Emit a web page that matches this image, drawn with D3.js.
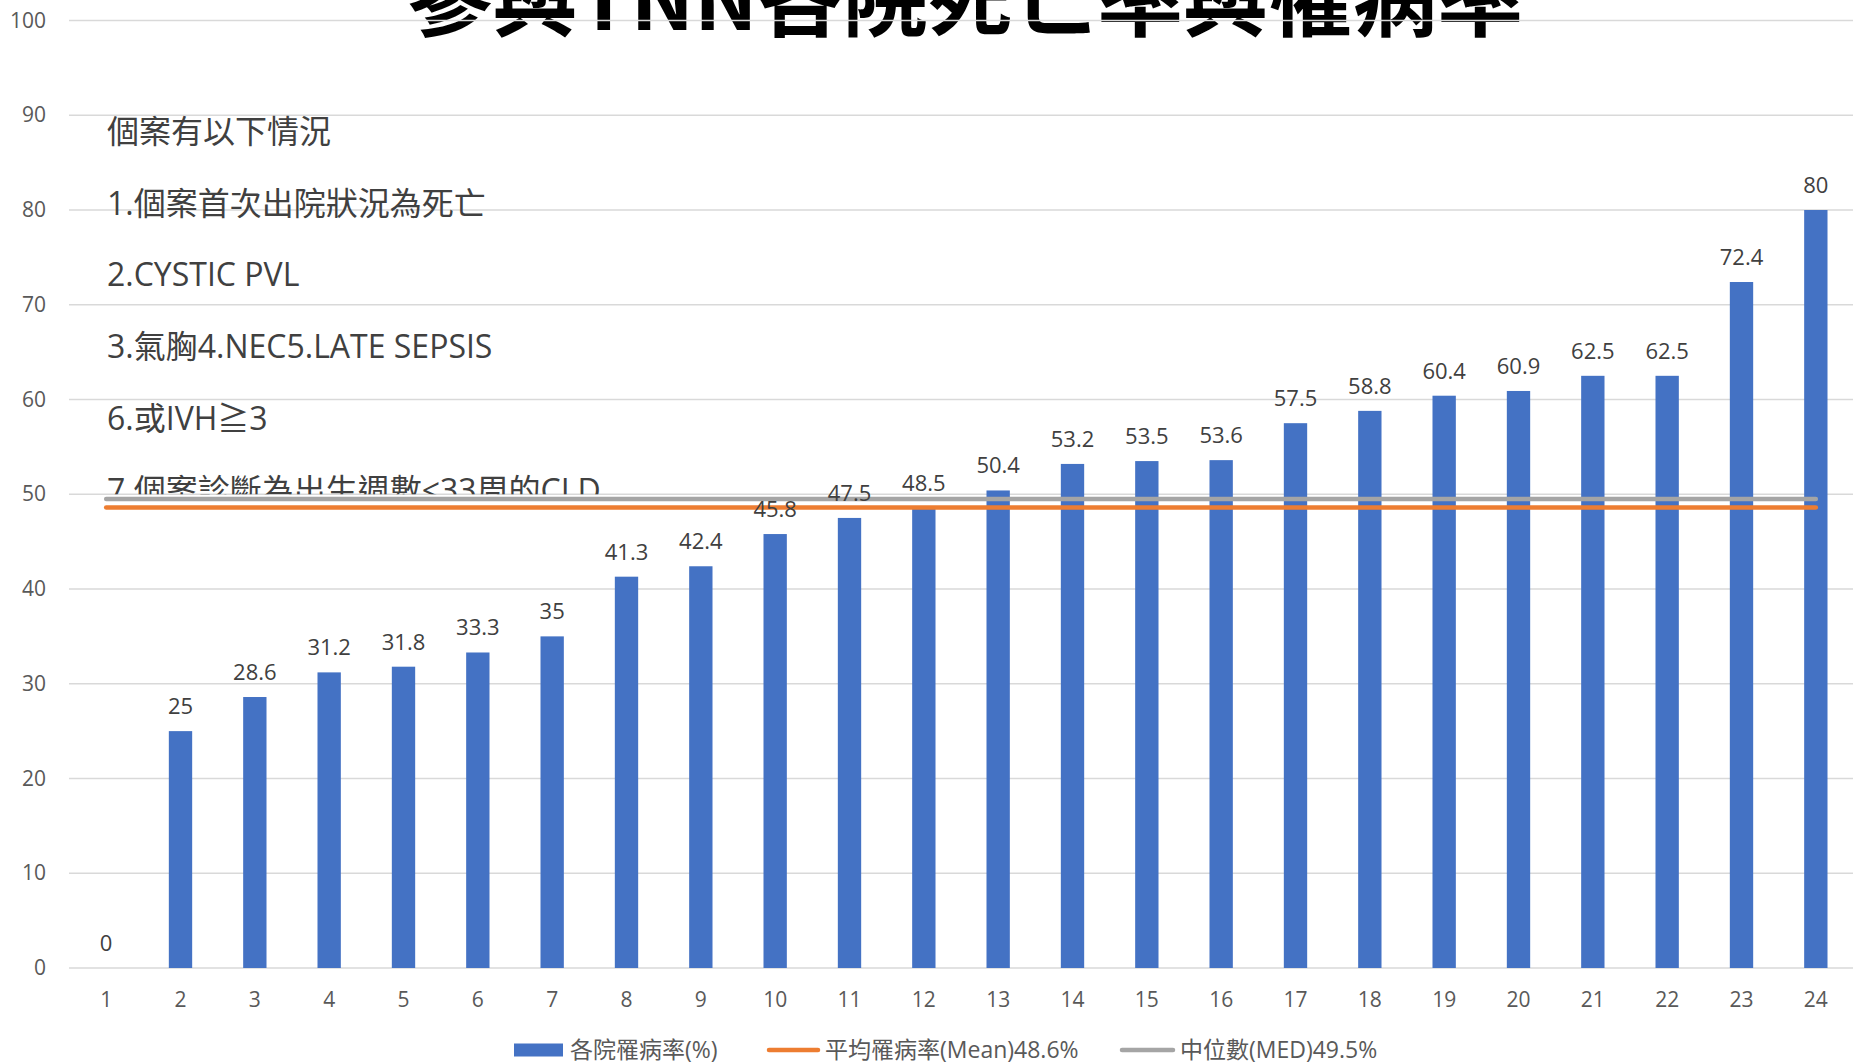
<!DOCTYPE html>
<html>
<head>
<meta charset="utf-8">
<script src="https://cdn.jsdelivr.net/npm/d3@7"></script>
<style>
  body { margin: 0; background: #fff; }
  text { font-family: "Open Sans", "Noto Sans CJK TC", sans-serif; }
</style>
</head>
<body>
<svg width="1856" height="1064"></svg>
<script>
// Data
var hospitals = ["1","2","3","4","5","6","7","8","9","10","11","12","13","14","15","16","17","18","19","20","21","22","23","24"];
var morbidity = [0, 25, 28.6, 31.2, 31.8, 33.3, 35, 41.3, 42.4, 45.8, 47.5, 48.5, 50.4, 53.2, 53.5, 53.6, 57.5, 58.8, 60.4, 60.9, 62.5, 62.5, 72.4, 80];
var meanValue = 48.6;
var medianValue = 49.5;
var yTicks = [0, 10, 20, 30, 40, 50, 60, 70, 80, 90, 100];
var titleText = "參與TNN各院死亡率與罹病率";
var noteLines = ["個案有以下情況", "1.個案首次出院狀況為死亡", "2.CYSTIC PVL", "3.氣胸4.NEC5.LATE SEPSIS", "6.或IVH≧3", "7.個案診斷為出生週數<33周的CLD"];
var legendLabels = ["各院罹病率(%)", "平均罹病率(Mean)48.6%", "中位數(MED)49.5%"];

var svg = d3.select("svg"),
    width = +svg.attr("width"),
    height = +svg.attr("height");

var plotLeft = 69, plotRight = 1853, plotTop = 20.5, plotBottom = 968;

var x = d3.scaleBand()
    .domain(hospitals)
    .range([plotLeft, plotRight]);

var y = d3.scaleLinear()
    .domain([0, 100])
    .range([plotBottom, plotTop]);

var barW = x.bandwidth() * 0.314;

// title (sits mostly above the canvas, as in the original)
svg.append("text")
    .attr("x", 965)
    .attr("y", 30)
    .attr("text-anchor", "middle")
    .style("font-family", "'Noto Sans CJK TC', sans-serif")
    .style("font-weight", "bold")
    .style("font-size", "85px")
    .style("fill", "#000")
    .text(titleText);

// gridlines
svg.append("g")
    .selectAll("line")
    .data(yTicks)
    .enter().append("line")
    .attr("x1", plotLeft)
    .attr("x2", plotRight)
    .attr("y1", (d) => y(d))
    .attr("y2", (d) => y(d))
    .style("stroke", "#d9d9d9")
    .style("stroke-width", 1.5);

// y axis labels
svg.append("g")
    .attr("transform", "translate(" + plotLeft + ",0)")
    .call(d3.axisLeft(y).tickValues(yTicks).tickSize(0).tickPadding(23))
    .call((g) => g.select(".domain").remove())
    .selectAll("text")
    .style("font-family", "'Open Sans', sans-serif")
    .style("font-size", "21px")
    .style("fill", "#595959");

// x axis labels
svg.append("g")
    .attr("transform", "translate(0," + plotBottom + ")")
    .call(d3.axisBottom(x).tickSize(0).tickPadding(24))
    .call((g) => g.select(".domain").remove())
    .selectAll("text")
    .style("font-family", "'Open Sans', sans-serif")
    .style("font-size", "21px")
    .style("fill", "#595959");

// note text box, last line is cut off at the 50 gridline
svg.append("clipPath")
    .attr("id", "noteClip")
    .append("rect")
    .attr("x", 0)
    .attr("y", 0)
    .attr("width", width)
    .attr("height", y(50));

svg.append("g")
    .attr("clip-path", "url(#noteClip)")
    .selectAll("text")
    .data(noteLines)
    .enter().append("text")
    .attr("x", 107)
    .attr("y", (d, i) => 143 + i * 71.7)
    .style("font-size", "32px")
    .style("fill", "#404040")
    .text((d) => d);

// bars
svg.append("g")
    .selectAll("rect")
    .data(morbidity)
    .enter().append("rect")
    .attr("x", (d, i) => x(hospitals[i]) + (x.bandwidth() - barW) / 2)
    .attr("y", (d) => y(d))
    .attr("width", barW)
    .attr("height", (d) => y(0) - y(d))
    .style("fill", "#4472c4");

// median and mean lines
var x0 = x(hospitals[0]) + x.bandwidth() / 2,
    x1 = x(hospitals[hospitals.length - 1]) + x.bandwidth() / 2;

svg.append("line")
    .attr("x1", x0).attr("x2", x1)
    .attr("y1", y(medianValue)).attr("y2", y(medianValue))
    .style("stroke", "#a5a5a5")
    .style("stroke-width", 4.5)
    .style("stroke-linecap", "round");

svg.append("line")
    .attr("x1", x0).attr("x2", x1)
    .attr("y1", y(meanValue)).attr("y2", y(meanValue))
    .style("stroke", "#ed7d31")
    .style("stroke-width", 4.5)
    .style("stroke-linecap", "round");

// data labels
svg.append("g")
    .selectAll("text")
    .data(morbidity)
    .enter().append("text")
    .attr("x", (d, i) => x(hospitals[i]) + x.bandwidth() / 2)
    .attr("y", (d) => y(d) - 17)
    .attr("text-anchor", "middle")
    .style("font-size", "22px")
    .style("fill", "#404040")
    .text((d) => d);

// legend
var legend = svg.append("g").attr("transform", "translate(0,1050)");

legend.append("rect")
    .attr("x", 514).attr("y", -6.5)
    .attr("width", 49).attr("height", 13)
    .style("fill", "#4472c4");

legend.append("line")
    .attr("x1", 769).attr("x2", 818)
    .style("stroke", "#ed7d31")
    .style("stroke-width", 4.5)
    .style("stroke-linecap", "round");

legend.append("line")
    .attr("x1", 1122).attr("x2", 1173)
    .style("stroke", "#a5a5a5")
    .style("stroke-width", 4.5)
    .style("stroke-linecap", "round");

legend.selectAll("text.lab")
    .data(legendLabels)
    .enter().append("text")
    .attr("class", "lab")
    .attr("x", (d, i) => [570, 825, 1180][i])
    .attr("y", 8)
    .style("font-size", "23px")
    .style("fill", "#595959")
    .text((d) => d);
</script>
</body>
</html>
